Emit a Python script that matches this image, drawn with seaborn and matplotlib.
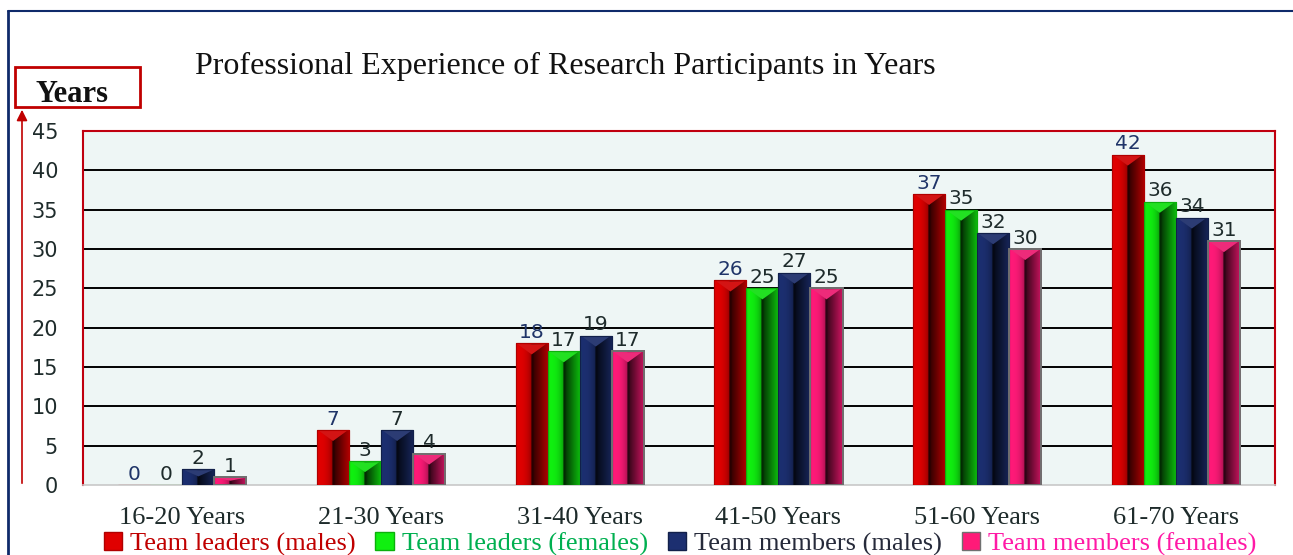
import numpy as np
import pandas as pd
import matplotlib.pyplot as plt
import seaborn as sns
from matplotlib.patches import Rectangle, FancyArrowPatch, Polygon
from matplotlib.lines import Line2D
from matplotlib.colors import to_rgb

# Data
groups = ["16-20 Years", "21-30 Years", "31-40 Years", "41-50 Years", "51-60 Years", "61-70 Years"]
series = ["Team leaders (males)", "Team leaders (females)", "Team members (males)", "Team members (females)"]
leaders_m = [0, 7, 18, 26, 37, 42]
leaders_f = [0, 3, 17, 25, 35, 36]
members_m = [2, 7, 19, 27, 32, 34]
members_f = [1, 4, 17, 25, 30, 31]

df = pd.DataFrame({
    "group": groups * 4,
    "series": np.repeat(series, len(groups)),
    "value": leaders_m + leaders_f + members_m + members_f,
})

bar_colors = ["#e00000", "#10f010", "#1c2f70", "#ff1a78"]
edge_colors = ["#b00000", "#0cb00c", "#12204a", "#707070"]
legend_text_colors = ["#c00000", "#00b050", "#262a3a", "#ff1aa6"]
label_colors = ["#1f3468", "#1e2b2b", "#1e2b2b", "#1e2b2b"]

sns.set_style("white")
fig = plt.figure(figsize=(12.93, 5.55), dpi=100)
ax = fig.add_axes([0.0642, 0.126, 0.922, 0.638])
ax.set_facecolor("#eef6f5")

sns.barplot(data=df, x="group", y="value", hue="series", order=groups, hue_order=series,
            palette=bar_colors, saturation=1, width=0.645, gap=0, legend=False, ax=ax, zorder=3)

# horizontal shading profile for the bevelled look
xs = np.linspace(0, 1, 60)
shade = np.where(xs < 0.46, 1.0 - 0.3 * (xs / 0.46) ** 3,
                 np.where(xs < 0.54, 0.18, 0.25 + 0.55 * (xs - 0.54) / 0.46))

for i, cont in enumerate(ax.containers):
    base = np.array(to_rgb(bar_colors[i]))
    img = (base[None, :] * shade[:, None])[None, :, :]
    for p in cont.patches:
        p.set_edgecolor(edge_colors[i])
        p.set_linewidth(1.4 if i == 3 else 0.8)
        x0, w, h = p.get_x(), p.get_width(), p.get_height()
        if h <= 0:
            continue
        im = ax.imshow(img, extent=(x0, x0 + w, 0, h), aspect="auto", zorder=3.5,
                       interpolation="bilinear")
        im.set_clip_path(p)
        tri_h = min(1.4, h * 0.45)
        light = tuple(np.clip(base * 0.85 + 0.08, 0, 1))
        ax.add_patch(Polygon([(x0 + w * 0.06, h - 0.1), (x0 + w * 0.94, h - 0.1),
                              (x0 + w * 0.5, h - tri_h)], closed=True,
                             facecolor=light, edgecolor="none", zorder=3.7))
        ax.add_patch(Rectangle((x0, 0), w, h, fill=False, edgecolor=edge_colors[i],
                               lw=1.4 if i == 3 else 0.8, zorder=3.8))
    ax.bar_label(cont, labels=[str(int(v)) for v in cont.datavalues], padding=1,
                 fontsize=14.5, color=label_colors[i], family="DejaVu Sans", zorder=5)

ax.set_ylim(0, 45)
ax.set_xlim(-0.5, len(groups) - 0.5)
ax.set_yticks(range(0, 46, 5))
ax.set_xlabel("")
ax.set_ylabel("")
for y in range(5, 45, 5):
    ax.axhline(y, color="black", lw=1.4, zorder=1)
for s in ["left", "top", "right"]:
    ax.spines[s].set_color("#c0000f")
    ax.spines[s].set_linewidth(1.5)
ax.spines["bottom"].set_color("#c8c8c8")
ax.spines["bottom"].set_linewidth(1.2)

ax.tick_params(axis="y", length=0, pad=18, labelsize=15, labelcolor="#1e2b2b")
ax.tick_params(axis="x", length=0, pad=16, labelsize=19, labelcolor="#1e2b2b")
for t in ax.get_xticklabels():
    t.set_family("Liberation Serif")

# Title
fig.text(0.437, 0.88, "Professional Experience of Research Participants in Years",
         ha="center", va="center", fontsize=23, family="Liberation Serif", color="#111111")

# "Years" box and arrow
fig.patches.append(Rectangle((15 / 1293, 1 - 107 / 555), 125 / 1293, 40 / 555,
                             transform=fig.transFigure, fill=False, edgecolor="#c00000", lw=2))
fig.text(72 / 1293, 1 - 95 / 555, "Years", ha="center", va="center", fontsize=22,
         fontweight="bold", family="Liberation Serif", color="#111111")
fig.patches.append(FancyArrowPatch((22 / 1293, 1 - 486 / 555), (22 / 1293, 1 - 107 / 555),
                                   transform=fig.transFigure, arrowstyle="-|>", mutation_scale=16,
                                   color="#c00000", lw=1.2))

# outer frame
fig.lines.append(Line2D([8 / 1293, 8 / 1293], [0, 1 - 11 / 555], transform=fig.transFigure,
                        color="#0f2a6a", lw=2))
fig.lines.append(Line2D([8 / 1293, 1.0], [1 - 11 / 555, 1 - 11 / 555],
                        transform=fig.transFigure, color="#0f2a6a", lw=1.5))

# Legend
handles = [Rectangle((0, 0), 1, 1, facecolor=bar_colors[i], edgecolor=edge_colors[i]) for i in range(4)]
leg = fig.legend(handles, series, loc="center", bbox_to_anchor=(0.526, 0.02), ncol=4,
                 frameon=False, handlelength=0.7, handleheight=0.7, handletextpad=0.3,
                 columnspacing=0.75, borderaxespad=0, prop={"family": "Liberation Serif", "size": 19})
for t, c in zip(leg.get_texts(), legend_text_colors):
    t.set_color(c)

fig.savefig("out.png", dpi=100)
